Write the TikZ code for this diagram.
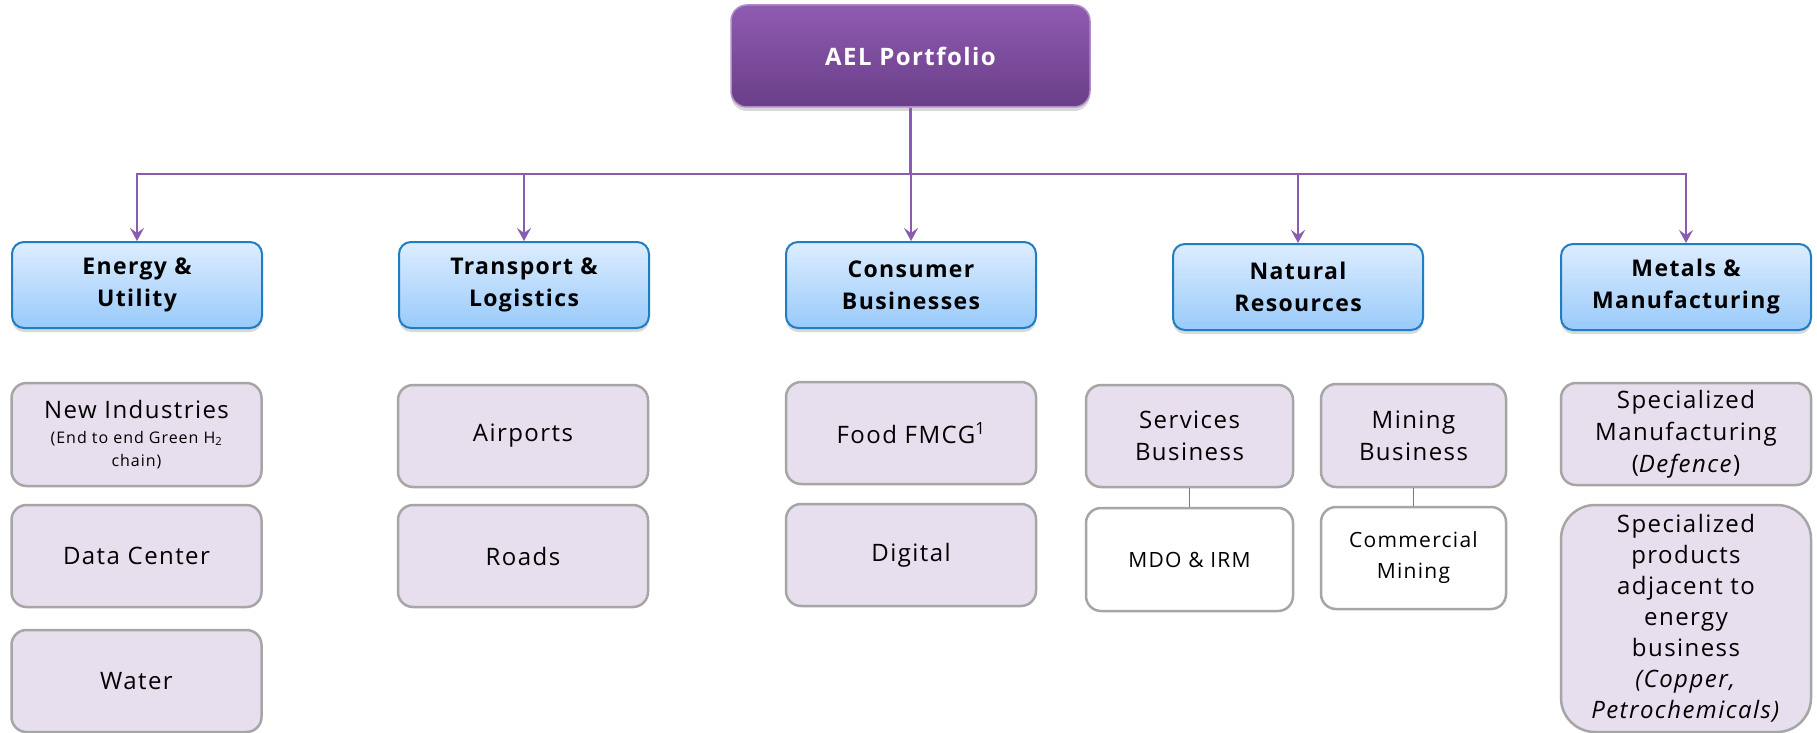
\documentclass[tikz,border=0pt]{standalone}
\usepackage{fontspec}
\setmainfont{Open Sans}[LetterSpace=6]
\usetikzlibrary{shadows,arrows.meta}
\definecolor{aeltop}{HTML}{8F5BB2}
\definecolor{aelbot}{HTML}{6A3E87}
\definecolor{conn}{HTML}{8A5CB0}
\definecolor{catTop}{HTML}{DDEDFF}
\definecolor{catBot}{HTML}{99CAFA}
\definecolor{catLine}{HTML}{1F7DC4}
\definecolor{leaf}{HTML}{E7DFEE}
\definecolor{leafLine}{HTML}{A6A6A6}
\definecolor{sublink}{HTML}{4A86C5}
\tikzset{
  x=1pt,y=-1pt,
  rootbox/.style={draw=aeltop!70!white, line width=1.5pt, rounded corners=16pt,
    top color=aeltop, bottom color=aelbot, text=white,
    font=\fontsize{24}{28}\selectfont\bfseries,
    minimum width=359pt, minimum height=102pt,
    drop shadow={shadow xshift=0pt, shadow yshift=-4pt, opacity=0.3}},
  catbox/.style={draw=catLine, line width=2pt, rounded corners=12pt,
    top color=catTop, bottom color=catBot, align=center,
    font=\fontsize{23}{32}\selectfont\bfseries,
    minimum width=250pt, minimum height=86pt, inner sep=0pt,
    drop shadow={shadow xshift=0pt, shadow yshift=-4pt, opacity=0.3}},
  leafbox/.style={draw=leafLine, line width=2.5pt, rounded corners=15pt,
    fill=leaf, align=center, font=\fontsize{24}{32}\selectfont,
    minimum width=250pt, minimum height=102pt, inner sep=0pt},
  whitebox/.style={leafbox, fill=white, font=\fontsize{21}{31}\selectfont},
  arr/.style={draw=conn, line width=2.2pt, -{Stealth[length=13pt,width=14pt,inset=5pt]}},
  subline/.style={draw=sublink, line width=1.5pt},
}
\begin{document}
\begin{tikzpicture}
\useasboundingbox (0,0) rectangle (1817,733);
\fill[white] (0,0) rectangle (1817,733);
% root
\node[rootbox] (ael) at (910.5,56) {AEL Portfolio};
\coordinate (bus) at (910.5,174);
% categories
\node[catbox] (E) at (137,285) {Energy \&\\Utility};
\node[catbox] (T) at (524,285) {Transport \&\\Logistics};
\node[catbox] (C) at (911,285) {Consumer\\Businesses};
\node[catbox] (N) at (1298,287) {Natural\\Resources};
\node[catbox] (M) at (1686,287) {Metals \&\\Manufacturing};
% connectors
\foreach \n in {E,T,C,N,M}{
  \draw[arr] (ael.south) |- (\n.north |- bus) -- (\n.north);
}
% Energy column
\node[leafbox, minimum height=103pt] (ni) at (136.5,434.5) {New Industries\\[-7pt]{\fontsize{16}{22}\selectfont (End to end Green H\textsubscript{2}}\\[-9pt]{\fontsize{16}{22}\selectfont chain)}};
\node[leafbox] (dc) at (136.5,556) {Data Center};
\node[leafbox] (wa) at (136.5,681) {Water};
% Transport column
\node[leafbox] (ap) at (523,436) {Airports};
\node[leafbox] (rd) at (523,556) {Roads};
% Consumer column
\node[leafbox] (ff) at (911,433) {Food FMCG\textsuperscript{1}};
\node[leafbox] (dg) at (911,555) {Digital};
% Natural resources
\node[leafbox, minimum width=207pt] (sb) at (1189.5,436) {Services\\Business};
\node[leafbox, minimum width=185pt, minimum height=103pt] (mb) at (1413.5,435.5) {Mining\\Business};
\node[whitebox, minimum width=207pt, minimum height=103pt] (mdo) at (1189.5,559.5) {MDO \& IRM};
\node[whitebox, minimum width=185pt] (cm) at (1413.5,558) {Commercial\\Mining};
\draw[subline] (sb.south) -- (mdo.north);
\draw[subline] (mb.south) -- (cm.north);
% Metals
\node[leafbox] (sm) at (1686,434) {Specialized\\Manufacturing\\(\textit{Defence})};
\node[leafbox, minimum height=227pt, rounded corners=34pt, font=\fontsize{24}{31}\selectfont] (sp) at (1686,618.5) {Specialized\\products\\adjacent to\\energy\\business\\\textit{(Copper,}\\\textit{Petrochemicals)}};
\end{tikzpicture}
\end{document}
